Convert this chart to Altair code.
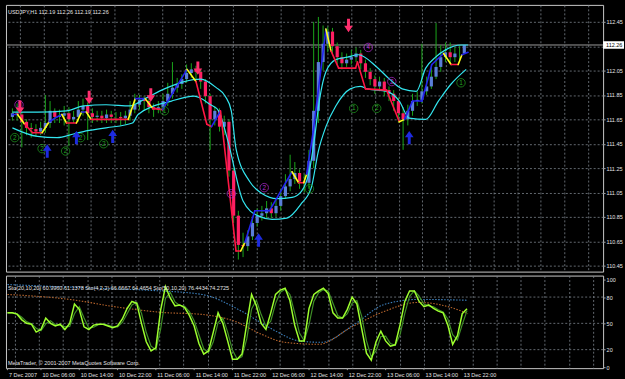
import altair as alt
import pandas as pd

# ---------------- text ----------------
header_text = "USDJPY,H1 112.19 112.26 112.19 112.26"
stoch_text = "Sto(20,10,20) 60.9960 61.1378  Sto(4,2,2) 66.6667 64.4654  Sto(50,10,20) 76.4434 74.2725"
copyright_text = "MetaTrader, \u00a9 2001-2007 MetaQuotes Software Corp."
last_price = 112.26
last_label = "112.26"

# ---------------- hourly bars (index 0 = 7 Dec 23:00) ----------------
bar_open = [111.67, 111.70, 111.69, 111.63, 111.58, 111.57, 111.55, 111.58, 111.62, 111.72,
            111.67, 111.68, 111.70, 111.65, 111.67, 111.73, 111.76, 111.70, 111.67, 111.68,
            111.66, 111.69, 111.67, 111.67, 111.66, 111.68, 111.73, 111.77, 111.81, 111.80,
            111.75, 111.73, 111.75, 111.80, 111.86, 111.91, 111.94, 111.98, 112.03, 112.06,
            112.04, 111.96, 111.84, 111.65, 111.72, 111.59, 111.63, 111.23, 110.86, 110.62,
            110.61, 110.69, 110.80, 110.86, 110.88, 110.92, 110.88, 110.94, 111.02, 111.10,
            111.16, 111.21, 111.14, 111.13, 111.31, 111.72, 112.12, 112.27, 112.37, 112.25,
            112.16, 112.11, 112.14, 112.16, 112.19, 112.11, 112.04, 111.98, 111.92, 111.96,
            111.89, 111.86, 111.80, 111.70, 111.65, 111.72, 111.80, 111.81, 111.88, 111.92,
            112.00, 112.08, 112.16, 112.20, 112.16, 112.19, 112.19]
bar_high = [111.74, 111.78, 111.71, 111.65, 111.62, 111.61, 111.63, 111.85, 111.80, 111.74,
            111.73, 111.76, 111.75, 111.72, 111.80, 111.82, 111.79, 111.74, 111.72, 111.72,
            111.73, 111.72, 111.71, 111.71, 111.72, 111.80, 111.86, 111.85, 111.84, 111.82,
            111.78, 111.80, 111.86, 111.95, 112.12, 111.99, 112.02, 112.10, 112.11, 112.09,
            112.06, 111.98, 111.86, 111.76, 111.74, 111.68, 111.65, 111.25, 110.90, 110.72,
            110.74, 110.84, 110.92, 110.94, 110.98, 110.97, 110.99, 111.08, 111.20, 111.36,
            111.30, 111.24, 111.20, 111.40, 112.45, 112.49, 112.42, 112.41, 112.40, 112.28,
            112.20, 112.19, 112.22, 112.24, 112.22, 112.14, 112.07, 112.01, 112.00, 111.99,
            111.92, 111.89, 111.83, 111.75, 111.77, 111.86, 111.88, 112.27, 112.00, 112.10,
            112.44, 112.26, 112.28, 112.28, 112.24, 112.25, 112.26]
bar_low = [111.64, 111.64, 111.42, 111.52, 111.50, 111.51, 111.52, 111.54, 111.58, 111.62,
           111.62, 111.60, 111.43, 111.62, 111.63, 111.68, 111.48, 111.62, 111.63, 111.62,
           111.62, 111.62, 111.62, 111.60, 111.61, 111.64, 111.70, 111.73, 111.72, 111.70,
           111.67, 111.70, 111.71, 111.76, 111.82, 111.87, 111.90, 111.95, 111.99, 111.98,
           111.90, 111.78, 111.40, 111.60, 111.55, 111.52, 111.18, 110.80, 110.50, 110.52,
           110.57, 110.66, 110.77, 110.82, 110.84, 110.84, 110.85, 110.90, 111.00, 111.06,
           111.12, 111.08, 111.05, 111.08, 111.25, 111.62, 112.05, 112.20, 112.18, 112.10,
           112.06, 112.08, 112.10, 112.12, 112.06, 111.99, 111.93, 111.86, 111.88, 111.84,
           111.80, 111.72, 111.62, 111.40, 111.60, 111.68, 111.76, 111.78, 111.85, 111.90,
           111.98, 112.04, 112.12, 112.10, 112.12, 112.14, 112.19]
bar_close = [111.70, 111.69, 111.63, 111.58, 111.57, 111.55, 111.58, 111.62, 111.72, 111.67,
             111.68, 111.70, 111.65, 111.67, 111.73, 111.76, 111.70, 111.67, 111.68, 111.66,
             111.69, 111.67, 111.67, 111.66, 111.68, 111.73, 111.77, 111.81, 111.80, 111.75,
             111.73, 111.75, 111.80, 111.86, 111.91, 111.94, 111.98, 112.03, 112.06, 112.04,
             111.96, 111.84, 111.65, 111.72, 111.59, 111.63, 111.23, 110.86, 110.62, 110.61,
             110.69, 110.80, 110.86, 110.88, 110.92, 110.88, 110.94, 111.02, 111.10, 111.16,
             111.21, 111.14, 111.13, 111.31, 111.72, 112.12, 112.27, 112.37, 112.25, 112.16,
             112.11, 112.14, 112.16, 112.19, 112.11, 112.04, 111.98, 111.92, 111.96, 111.89,
             111.86, 111.80, 111.70, 111.65, 111.72, 111.80, 111.81, 111.88, 111.92, 112.00,
             112.08, 112.16, 112.20, 112.16, 112.19, 112.19, 112.26]

# ---------------- envelope bands (sampled) ----------------
upper_bar = [0, 5.3, 11.5, 15.1, 19.9, 25.0, 28.2, 32.3, 36.5, 40.0, 43.3, 45.2, 46.5, 47.5, 50.4,
             53.1, 56.2, 59.4, 61.4, 63.1, 64.1, 65.2, 66.6, 68.7, 71.2, 73.5, 77.4, 80.1, 82.8,
             85.8, 87.8, 89.9, 92.0, 95.3, 96.8]
upper_val = [111.71, 111.71, 111.72, 111.76, 111.77, 111.76, 111.82, 111.90, 111.96, 111.98,
             111.91, 111.84, 111.72, 111.41, 111.14, 111.04, 111.00, 111.01, 111.06, 111.23,
             111.47, 111.80, 112.04, 112.14, 112.16, 112.18, 112.08, 111.98, 111.90, 111.88,
             112.07, 112.16, 112.22, 112.26, 112.26]
lower_bar = [0, 5.3, 9.5, 13.0, 15.1, 19.9, 25.5, 26.7, 33.8, 38.6, 42.1, 43.8, 45.8, 49.0, 52.1,
             55.2, 58.3, 61.4, 63.5, 65.0, 66.6, 68.7, 71.8, 73.9, 75.4, 79.5, 82.2, 84.3, 87.8,
             90.5, 93.2, 96.4]
lower_val = [111.58, 111.51, 111.50, 111.53, 111.55, 111.58, 111.62, 111.69, 111.80, 111.84,
             111.77, 111.72, 111.47, 110.98, 110.86, 110.83, 110.84, 110.96, 111.09, 111.39,
             111.59, 111.76, 111.90, 111.92, 111.90, 111.88, 111.80, 111.66, 111.65, 111.80,
             111.94, 112.06]

# ---------------- trend moving average (B=blue, Y=yellow, R=red segments) ----------------
ma_bar = [0, 1.1, 2.6, 4.3, 6.3, 7.8, 9.5, 10.5, 11.5, 13.6, 14.7, 15.7, 16.7, 24.6, 26.1, 28.2,
          29.8, 31.9, 37.1, 39.0, 41.3, 42.3, 44.2, 47.5, 48.5, 49.4, 51.5, 54.6, 59.4, 60.8,
          61.9, 62.5, 63.9, 66.6, 67.7, 69.3, 72.9, 73.3, 75.0, 79.5, 82.2, 83.3, 85.0, 87.0,
          89.1, 91.6, 93.2, 94.7, 95.5, 96.8]
ma_val = [111.69, 111.69, 111.61, 111.54, 111.54, 111.63, 111.67, 111.69, 111.62, 111.62,
          111.71, 111.71, 111.65, 111.65, 111.82, 111.82, 111.74, 111.73, 112.06, 111.96,
          111.61, 111.59, 111.72, 110.57, 110.57, 110.64, 110.90, 110.90, 111.22, 111.13,
          111.13, 111.20, 111.55, 112.39, 112.21, 112.07, 112.07, 112.12, 111.90, 111.89,
          111.63, 111.65, 111.80, 111.80, 112.10, 112.19, 112.10, 112.10, 112.18, 112.20]
ma_trend = list("BYRRYBBYRYBYRYBYRBYRRBRRYBBBYRYBBYRRRRRRYBBBBYRYBB")

# ---------------- signal arrows ----------------
down_bar = [1.6, 16.3, 29.4, 39.4, 71.4]
down_val = [111.75, 111.83, 111.85, 112.07, 112.42]
up_bar = [7.4, 13.6, 21.3, 52.3, 84.3]
up_val = [111.39, 111.50, 111.51, 110.66, 111.50]

# ---------------- circled wave labels ----------------
circ_bar = [0.5, 6.3, 11.3, 14.5, 19.4, 1.4, 32.3, 46.5, 53.5, 63.1, 75.6, 80.6, 72.5, 77.4, 95.3]
circ_val = [111.50, 111.41, 111.39, 111.50, 111.45, 111.77, 111.72, 111.04, 111.09, 111.08,
            112.24, 111.96, 111.74, 111.74, 111.95]
circ_digit = ["2", "2", "2", "2", "2", "1", "1", "1", "2", "1", "4", "2", "1", "2", "1"]
circ_kind = ["g", "g", "g", "g", "g", "p", "g", "p", "p", "g", "p", "p", "g", "g", "g"]

# ---------------- stochastics ----------------
stoch_k = [62, 62, 60.5, 54, 50, 49, 40, 43, 56, 50,
           47, 49, 43, 50, 72, 66, 46, 43, 48, 49,
           49, 47, 45, 47, 55, 67, 75, 73, 50, 29,
           18.5, 22, 65, 92, 79, 70, 71, 68, 59, 47,
           27, 15, 18.5, 40, 62, 50, 30, 9, 9, 15,
           50, 83, 70, 50, 43, 62, 83, 88, 90, 76,
           48, 30, 30, 67, 83, 87, 90, 84, 62, 56,
           56, 66, 80, 72, 44, 16, 8, 29, 41, 30,
           24, 25.5, 48, 75, 87, 87, 75, 69, 71, 67,
           64, 62, 48, 26, 36, 61, 66.7]
stoch_d = [62, 62, 61, 57, 52, 49.5, 44.5, 41.5, 49.5, 53,
           48.5, 48, 46, 46.5, 61, 69, 56, 44.5, 45.5, 48.5,
           49, 48, 46, 46, 51, 61, 71, 74, 61.5, 39.5,
           24, 20, 43.5, 78.5, 85.5, 74.5, 70.5, 69.5, 63.5, 53,
           37, 21, 17, 29, 51, 56, 40, 19.5, 9, 12,
           32.5, 66.5, 76.5, 60, 46.5, 52.5, 72.5, 85.5, 89, 83,
           62, 39, 30, 48.5, 75, 85, 88.5, 87, 73, 59,
           56, 61, 73, 76, 58, 30, 12, 18.5, 35, 35.5,
           27, 25, 36.8, 61.5, 81, 87, 81, 72, 70, 69,
           65.5, 63, 55, 37, 31, 48.5, 64.5]
s50_bar = [0, 19.9, 30.3, 40.6, 49.0, 54.6, 61.4, 65.6, 72.5, 78.7, 85.8, 96.2]
s50_val = [94.3, 89.8, 87.5, 83.0, 63.6, 45.5, 29.5, 28.4, 48.9, 71.6, 77.3, 76.4]
s20_bar = [0, 13.0, 23.4, 32.3, 40.6, 47.5, 53.1, 57.9, 65.0, 71.8, 78.7, 85.8, 92.6, 96.2]
s20_val = [83.0, 77.3, 68.2, 62.5, 60.2, 52.3, 37.5, 28.4, 26.1, 45.5, 63.6, 73.9, 68.2, 61.0]

time_bar = [0, 7, 15, 23, 31, 39, 47, 55, 63, 71, 79, 87, 95]
time_label = ["7 Dec 2007", "10 Dec 06:00", "10 Dec 14:00", "10 Dec 22:00", "11 Dec 06:00",
              "11 Dec 14:00", "11 Dec 22:00", "12 Dec 06:00", "12 Dec 14:00", "12 Dec 22:00",
              "13 Dec 06:00", "13 Dec 14:00", "13 Dec 22:00"]
price_ticks = [110.45, 110.65, 110.85, 111.05, 111.25, 111.45, 111.65, 111.85, 112.05, 112.25, 112.45]
stoch_ticks = [0, 20, 50, 80, 100]
stoch_grid = [20, 50, 80]

# ---------------- styling ----------------
FONT = "Liberation Sans"
FS = 5.5
TXT = "#e4e4e4"
GRID = "#7c838c"
W, H1, H2 = 600, 268, 93
X_DOM = [-0.31, 124.43]
grid_x = [round(1.56 + 5.031 * k, 3) for k in range(25)]

xs = alt.Scale(domain=X_DOM, nice=False, zero=False)
ys = alt.Scale(domain=[110.401, 112.589], nice=False, zero=False)
ss = alt.Scale(domain=[-1.1, 104.5], nice=False, zero=False)

x_axis = alt.Axis(values=grid_x, grid=True, gridColor=GRID, gridDash=[2, 2], gridOpacity=0.8,
                  labels=False, ticks=False, domain=False, title=None)
y_axis = alt.Axis(orient="right", values=price_ticks, grid=True, gridColor=GRID, gridDash=[2, 2],
                  gridOpacity=0.8, domain=False, title=None, tickSize=2, tickColor="#a0a0a0",
                  labelPadding=1, labelFont=FONT, labelFontSize=FS, labelColor=TXT,
                  labelExpr="datum.value == 112.25 ? '' : format(datum.value, '.2f')")
s_axis = alt.Axis(orient="right", values=stoch_ticks, grid=False, domain=False, title=None,
                  tickSize=2, tickColor="#a0a0a0", labelPadding=1, labelFont=FONT,
                  labelFontSize=FS, labelColor=TXT)


def X(f):
    return alt.X(f"{f}:Q", scale=xs, axis=x_axis)


def PY(f):
    return alt.Y(f"{f}:Q", scale=ys, axis=y_axis)


def SY(f):
    return alt.Y(f"{f}:Q", scale=ss, axis=s_axis)


bars = list(range(len(bar_close)))
cdf = pd.DataFrame({"bar": bars, "open": bar_open, "high": bar_high,
                    "low": bar_low, "close": bar_close})
cdf["dir"] = ["up" if c >= o else "down" for o, c in zip(bar_open, bar_close)]

col_map = {"B": "#2424ee", "Y": "#ffff1a", "R": "#ff1744"}
seg = pd.DataFrame({
    "x": ma_bar[:-1], "y": ma_val[:-1], "x2": ma_bar[1:], "y2": ma_val[1:],
    "c": [col_map[t] for t in ma_trend[:-1]],
})

DOWN = "M-0.22,-1L0.22,-1L0.22,0.05L0.65,0.05L0,1L-0.65,0.05L-0.22,0.05Z"
UP = "M-0.22,1L0.22,1L0.22,-0.05L0.65,-0.05L0,-1L-0.65,-0.05L-0.22,-0.05Z"
BOX = "M-1,-0.36L1,-0.36L1,0.36L-1,0.36Z"

price_df = pd.DataFrame({"p": [last_price], "t": [last_label]})

price_line = alt.Chart(price_df).mark_rule(color="#9c9c9c", strokeWidth=1).encode(y=PY("p"))
wicks = alt.Chart(cdf).mark_rule(color="#1aa51a", strokeWidth=1).encode(
    x=X("bar"), y=PY("low"), y2="high:Q")
bodies = alt.Chart(cdf).mark_bar(size=3.2).encode(
    x=X("bar"), y=PY("open"), y2="close:Q",
    color=alt.Color("dir:N", scale=alt.Scale(domain=["up", "down"], range=["#5a7ed8", "#ff1f63"]),
                    legend=None))
upper = alt.Chart(pd.DataFrame({"bar": upper_bar, "v": upper_val})).mark_line(
    color="#33e6f0", strokeWidth=1.2, interpolate="monotone").encode(x=X("bar"), y=PY("v"))
lower = alt.Chart(pd.DataFrame({"bar": lower_bar, "v": lower_val})).mark_line(
    color="#33e6f0", strokeWidth=1.2, interpolate="monotone").encode(x=X("bar"), y=PY("v"))
ma = alt.Chart(seg).mark_rule(strokeWidth=1.6, strokeCap="round").encode(
    x=X("x"), y=PY("y"), x2="x2:Q", y2="y2:Q", color=alt.Color("c:N", scale=None))

cdf2 = pd.DataFrame({"bar": circ_bar, "v": circ_val, "d": circ_digit,
                     "c": ["#22a722" if k == "g" else "#b62bd6" for k in circ_kind]})
circles = alt.Chart(cdf2).mark_point(shape="circle", filled=False, size=72, strokeWidth=1).encode(
    x=X("bar"), y=PY("v"), color=alt.Color("c:N", scale=None))
digits = alt.Chart(cdf2).mark_text(font=FONT, fontSize=6.5, align="center", baseline="middle").encode(
    x=X("bar"), y=PY("v"), text="d:N", color=alt.Color("c:N", scale=None))

down_arrows = alt.Chart(pd.DataFrame({"bar": down_bar, "v": down_val})).mark_point(
    shape=DOWN, filled=True, size=180, color="#ff2e6e", opacity=1).encode(x=X("bar"), y=PY("v"))
up_arrows = alt.Chart(pd.DataFrame({"bar": up_bar, "v": up_val})).mark_point(
    shape=UP, filled=True, size=180, color="#1d2be0", opacity=1).encode(x=X("bar"), y=PY("v"))

header = alt.Chart(pd.DataFrame({"t": [header_text]})).mark_text(
    font=FONT, fontSize=FS, color=TXT, align="left", baseline="middle").encode(
    x=alt.value(2), y=alt.value(7), text="t:N")
tag_box = alt.Chart(price_df).mark_point(shape=BOX, filled=True, size=441, color="white",
                                         opacity=1).encode(x=alt.value(610.5), y=PY("p"))
tag_text = alt.Chart(price_df).mark_text(font=FONT, fontSize=FS, color="black", align="left",
                                         baseline="middle").encode(
    x=alt.value(603), y=PY("p"), text="t:N")

main = alt.layer(price_line, wicks, bodies, upper, lower, ma, circles, digits,
                 down_arrows, up_arrows, header, tag_box, tag_text).properties(width=W, height=H1)

# ---------------- stochastic panel ----------------
sdf = pd.DataFrame({"bar": bars, "k": stoch_k, "d": stoch_d})
s_grid = alt.Chart(pd.DataFrame({"g": stoch_grid})).mark_rule(
    color=GRID, strokeDash=[2, 2], opacity=0.8).encode(y=SY("g"))
s50 = alt.Chart(pd.DataFrame({"bar": s50_bar, "v": s50_val})).mark_line(
    color="#3d82c0", strokeWidth=1.1, strokeDash=[1.5, 1.5], interpolate="monotone").encode(
    x=X("bar"), y=SY("v"))
s20 = alt.Chart(pd.DataFrame({"bar": s20_bar, "v": s20_val})).mark_line(
    color="#b8652c", strokeWidth=1.1, strokeDash=[1.5, 1.5], interpolate="monotone").encode(
    x=X("bar"), y=SY("v"))
sig = alt.Chart(sdf).mark_line(color="#3f8f27", strokeWidth=1.2).encode(x=X("bar"), y=SY("d"))
kline = alt.Chart(sdf).mark_line(color="#9dff2e", strokeWidth=1.5).encode(x=X("bar"), y=SY("k"))
s_label = alt.Chart(pd.DataFrame({"t": [stoch_text]})).mark_text(
    font=FONT, fontSize=FS, color=TXT, align="left", baseline="middle").encode(
    x=alt.value(2), y=alt.value(12), text="t:N")
copy_label = alt.Chart(pd.DataFrame({"t": [copyright_text]})).mark_text(
    font=FONT, fontSize=FS, color=TXT, align="left", baseline="middle").encode(
    x=alt.value(2), y=alt.value(H2 - 5), text="t:N")
tdf = pd.DataFrame({"bar": time_bar, "t": time_label})
t_ticks = alt.Chart(tdf).mark_rule(color="#a0a0a0").encode(
    x=X("bar"), y=alt.value(H2), y2=alt.value(H2 + 2))
t_text = alt.Chart(tdf).mark_text(font=FONT, fontSize=FS, color=TXT, align="left",
                                  baseline="middle", dx=1.5).encode(
    x=X("bar"), y=alt.value(H2 + 7), text="t:N")

stoch = alt.layer(s_grid, s50, s20, sig, kline, s_label, copy_label, t_ticks, t_text).properties(
    width=W, height=H2)

chart = alt.vconcat(main, stoch, spacing=2).properties(
    background="black", padding={"left": 3, "top": 3, "right": 0, "bottom": 0}
).configure_view(stroke="#c8c8c8", strokeWidth=1)

chart.save("out.html", embed_options={"renderer": "svg", "actions": False})
